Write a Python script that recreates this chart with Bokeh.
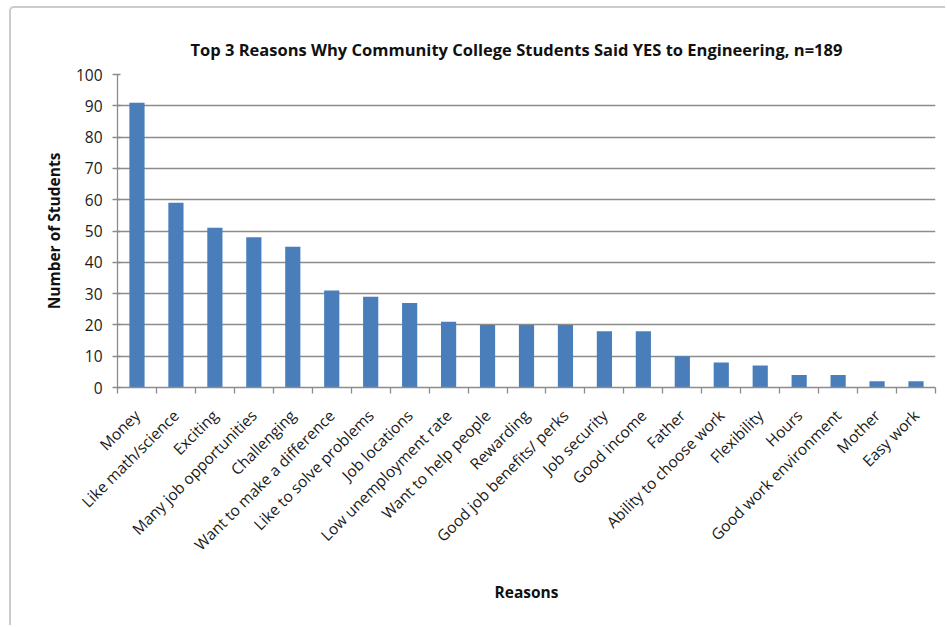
import math
from bokeh.plotting import figure
from bokeh.models import (ColumnDataSource, Range1d, SingleIntervalTicker, LinearAxis,
                          FixedTicker, CustomLabelingPolicy)
from bokeh.embed import file_html
from bokeh.resources import INLINE

reasons = ["Money", "Like math/science", "Exciting", "Many job opportunities", "Challenging",
           "Want to make a difference", "Like to solve problems", "Job locations",
           "Low unemployment rate", "Want to help people", "Rewarding", "Good job benefits/ perks",
           "Job security", "Good income", "Father", "Ability to choose work", "Flexibility",
           "Hours", "Good work environment", "Mother", "Easy work"]
students = [91, 59, 51, 48, 45, 31, 29, 27, 21, 20, 20, 20, 18, 18, 10, 8, 7, 4, 4, 2, 2]

title = "Top 3 Reasons Why Community College Students Said YES to Engineering, n=189"
FONT = "Open Sans"

n = len(reasons)
centers = [i + 0.5 for i in range(n)]
src = ColumnDataSource(dict(x=centers, y=students, name=reasons))

p = figure(width=936, height=619, x_range=Range1d(0, n), y_range=Range1d(0, 100),
           output_backend="svg", toolbar_location=None, tools="",
           min_border_left=106, min_border_right=12, min_border_top=66, min_border_bottom=240,
           x_axis_location=None)
p.margin = (6, 0, 0, 9)
p.styles = {"border-top": "2px solid #cccccc", "border-left": "2px solid #cccccc",
            "border-top-left-radius": "5px"}
p.title.text = title
p.title.align = "left"
p.title.offset = 73
p.title.text_font = FONT
p.title.text_font_style = "bold"
p.title.text_font_size = "16.5px"
p.title.text_color = "#111111"
p.title.standoff = 28

p.vbar(x="x", top="y", width=0.39, source=src, fill_color="#4A7EBB", line_color=None)

p.outline_line_color = None
p.xgrid.grid_line_color = None
p.ygrid.grid_line_color = "#8c8c8c"
p.ygrid.grid_line_width = 1.3

# Excel-style tick marks between categories (no labels)
tick_axis = LinearAxis(ticker=FixedTicker(ticks=list(range(n + 1))),
                       major_label_policy=CustomLabelingPolicy(code="return new Set()"),
                       major_label_standoff=0,
                       axis_line_color="#8c8c8c", axis_line_width=1.3,
                       major_tick_line_color="#8c8c8c", major_tick_line_width=1.3,
                       major_tick_in=0, major_tick_out=6, minor_tick_line_color=None)
# Category labels at bar centres
cat_axis = LinearAxis(ticker=FixedTicker(ticks=centers),
                      major_label_overrides={c: r for c, r in zip(centers, reasons)},
                      axis_line_color=None, major_tick_line_color=None,
                      minor_tick_line_color=None,
                      major_label_orientation=math.pi / 4, major_label_standoff=2)
p.add_layout(tick_axis, "below")
p.add_layout(cat_axis, "below")

yax = p.yaxis[0]
yax.ticker = SingleIntervalTicker(interval=10)
yax.minor_tick_line_color = None
yax.axis_line_color = "#8c8c8c"
yax.axis_line_width = 1.3
yax.major_tick_line_color = "#8c8c8c"
yax.major_tick_line_width = 1.3
yax.major_tick_in = 3
yax.major_tick_out = 5
yax.major_label_standoff = 10
yax.axis_label = "Number of Students"
yax.axis_label_standoff = 8

for ax in (cat_axis, yax):
    ax.major_label_text_font = FONT
    ax.major_label_text_font_size = "15.5px"
    ax.major_label_text_color = "#1a1a1a"
    ax.axis_label_text_font = FONT
    ax.axis_label_text_font_style = "bold"
    ax.axis_label_text_font_size = "15.5px"
    ax.axis_label_text_color = "#111111"

cat_axis.axis_label = "Reasons"
cat_axis.axis_label_standoff = 15

open("out.html", "w").write(file_html(p, INLINE))
